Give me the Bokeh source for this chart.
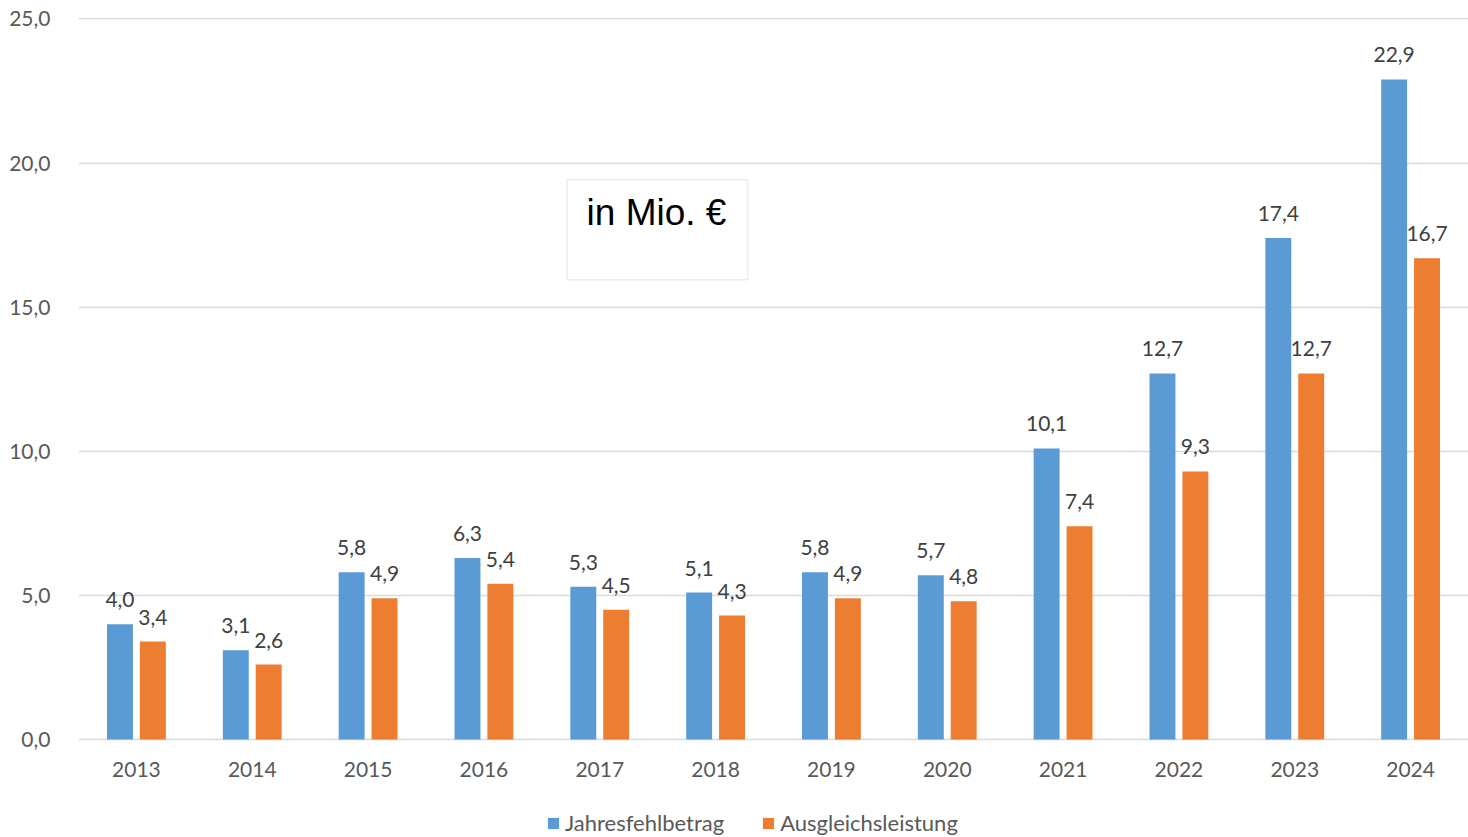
from bokeh.plotting import figure
from bokeh.models import (ColumnDataSource, FactorRange, Range1d, Legend, LegendItem,
                          CustomJSTickFormatter, BoxAnnotation, Label, LabelSet)
from bokeh.transform import dodge
from bokeh.core.properties import value
from bokeh.embed import file_html
from bokeh.resources import INLINE

years = ["2013", "2014", "2015", "2016", "2017", "2018", "2019", "2020", "2021", "2022", "2023", "2024"]
jahresfehlbetrag = [4.0, 3.1, 5.8, 6.3, 5.3, 5.1, 5.8, 5.7, 10.1, 12.7, 17.4, 22.9]
ausgleichsleistung = [3.4, 2.6, 4.9, 5.4, 4.5, 4.3, 4.9, 4.8, 7.4, 9.3, 12.7, 16.7]
series_names = ["Jahresfehlbetrag", "Ausgleichsleistung"]
y_ticks = [0, 5, 10, 15, 20, 25]

def fmt(v):
    return f"{v:.1f}".replace(".", ",")

source = ColumnDataSource(dict(
    year=years,
    zero=[0] * len(years),
    blue=jahresfehlbetrag,
    orange=ausgleichsleistung,
    blue_lbl=[fmt(v) for v in jahresfehlbetrag],
    orange_lbl=[fmt(v) for v in ausgleichsleistung],
))

FONT = "Lato"
TXT = "#595959"

PX_PER_UNIT = 722 / 25.05
FRAME_H = 819
Y_START = -(FRAME_H - 722) / PX_PER_UNIT

p = figure(frame_width=1390, frame_height=FRAME_H, output_backend="svg", toolbar_location=None,
           x_range=FactorRange(*years, range_padding=0), y_range=Range1d(Y_START, 25.05),
           min_border_left=78, min_border_right=0, min_border_top=17, min_border_bottom=0)
p.outline_line_color = None

BW = 0.224
OFF = 0.142
BLUE = "#5b9bd5"
ORANGE = "#ed7d31"

r1 = p.vbar(x=dodge("year", -OFF, range=p.x_range), top="blue", width=BW, source=source,
            fill_color=BLUE, line_color=None)
r2 = p.vbar(x=dodge("year", OFF, range=p.x_range), top="orange", width=BW, source=source,
            fill_color=ORANGE, line_color=None)

for col, lbl, off in (("blue", "blue_lbl", -OFF), ("orange", "orange_lbl", OFF)):
    ls = LabelSet(x=dodge("year", off, range=p.x_range), y=col, text=lbl, source=source,
                  text_align="center", text_baseline="bottom", y_offset=17,
                  text_font=value(FONT), text_font_size="21px", text_color="#404040")
    p.add_layout(ls)

# category labels under the zero line
p.add_layout(LabelSet(x="year", y="zero", text="year", source=source,
                      text_align="center", text_baseline="middle", y_offset=-30,
                      text_font=value(FONT), text_font_size="21px", text_color=TXT))

# axes
p.yaxis.formatter = CustomJSTickFormatter(code="return tick.toFixed(1).replace('.', ',');")
p.yaxis.ticker = y_ticks
p.yaxis.axis_line_color = None
p.yaxis.major_tick_line_color = None
p.yaxis.minor_tick_line_color = None
p.yaxis.major_label_standoff = 22
p.yaxis.major_label_text_font = FONT
p.yaxis.major_label_text_font_size = "21px"
p.yaxis.major_label_text_color = TXT

p.xaxis.visible = False

p.xgrid.grid_line_color = None
p.ygrid.grid_line_color = "#d9d9d9"
p.ygrid.grid_line_width = 1.5

# text box
box = BoxAnnotation(left=4.216, right=5.776, bottom=15.95, top=19.42,
                    fill_color="white", fill_alpha=1.0, line_color="#bfbfbf", line_width=1.5)
p.add_layout(box)
p.add_layout(Label(x=4.99, y=18.27, text="in Mio. €", text_align="center",
                   text_baseline="alphabetic", text_font="Liberation Sans",
                   text_font_size="37px", text_color="black"))

legend = Legend(items=[LegendItem(label=series_names[0], renderers=[r1]),
                       LegendItem(label=series_names[1], renderers=[r2])],
                orientation="horizontal", location=(468, 0),
                label_text_font=FONT, label_text_font_size="22px", label_text_color=TXT,
                glyph_width=14, glyph_height=14, label_standoff=5, spacing=37,
                border_line_color=None, background_fill_alpha=0, margin=0, padding=0)
p.add_layout(legend)

open("out.html", "w").write(file_html(p, INLINE))
